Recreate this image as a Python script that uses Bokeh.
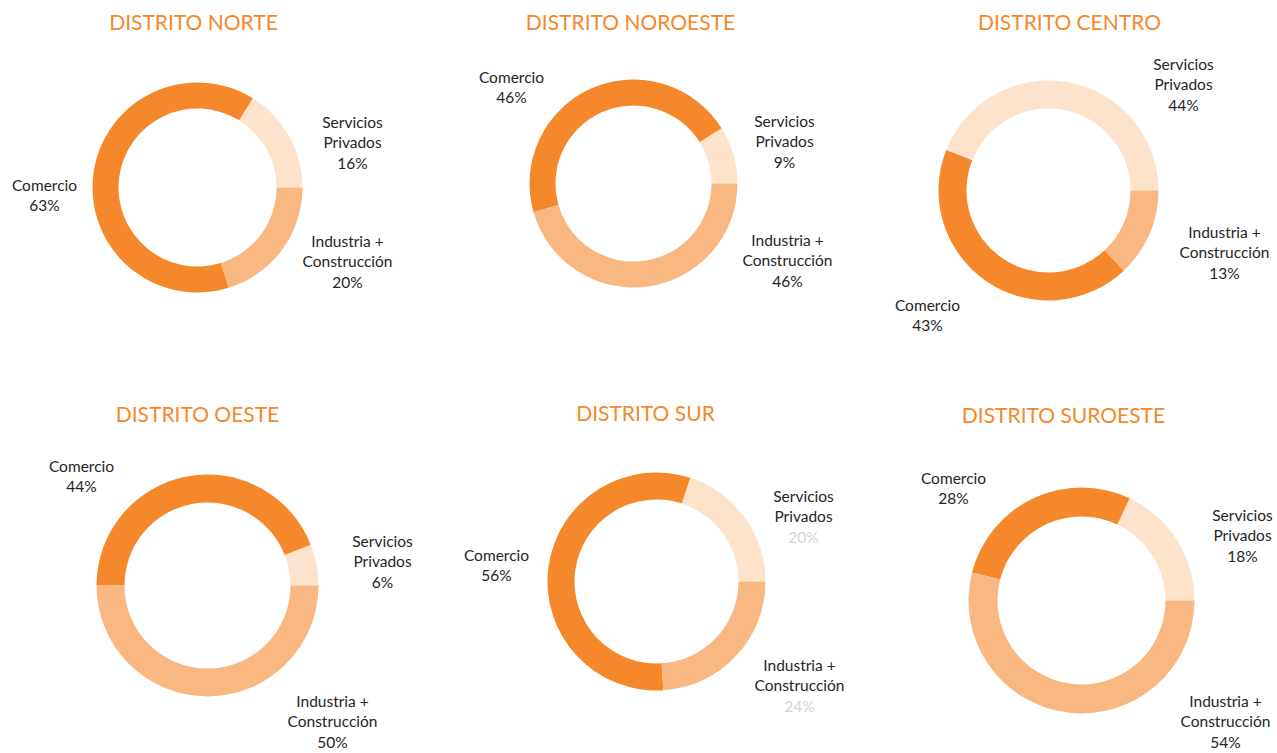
import math
from bokeh.plotting import figure
from bokeh.models import Range1d, ColumnDataSource
from bokeh.core.properties import value
from bokeh.embed import file_html
from bokeh.resources import INLINE

# ---------------- data ----------------
districts = ["DISTRITO NORTE", "DISTRITO NOROESTE", "DISTRITO CENTRO",
             "DISTRITO OESTE", "DISTRITO SUR", "DISTRITO SUROESTE"]
sectors = ["Servicios Privados", "Comercio", "Industria + Construcción"]
servicios = [16, 9, 44, 6, 20, 18]
comercio = [63, 46, 43, 44, 56, 28]
industria = [20, 46, 13, 50, 24, 54]

sector_lines = {
    "Servicios Privados": ["Servicios", "Privados"],
    "Comercio": ["Comercio"],
    "Industria + Construcción": ["Industria +", "Construcción"],
}

# ---------------- layout / style (reference pixel coords) ----------------
W, H = 1277, 753
centers = [(197, 187), (633, 183), (1048, 190), (207, 585), (656, 581), (1081, 600)]
outer_r = [105, 104, 110, 111, 109, 113]
inner_r = [79, 78, 82, 83, 82, 84]
title_pos = [(193, 21), (630, 21), (1069, 21), (197, 413), (645, 412), (1063, 414)]
# first-line centre of each label: order Servicios, Comercio, Industria
label_pos = [
    [(352, 121), (44, 184), (347, 240)],
    [(784, 120), (511, 76), (787, 239)],
    [(1183, 63), (927, 304), (1224, 231)],
    [(382, 540), (81, 465), (332, 700)],
    [(803, 495), (496, 554), (799, 664)],
    [(1242, 514), (953, 477), (1225, 700)],
]
line_gap = 20.7
colors = {"Servicios Privados": "#FDE3CB", "Comercio": "#F5882A",
          "Industria + Construcción": "#F9B882"}
title_color = "#F5882A"
text_color = "#262626"
faded_pct_color = "#D4D4D4"
faded_pct = {4: [True, False, True]}  # Distrito Sur: percentages shown faint
FONT = "Lato"


def px(x):
    return x


def py(y):
    return H - y


p = figure(width=W, height=H, output_backend="svg", toolbar_location=None,
           x_range=Range1d(0, W), y_range=Range1d(0, H),
           min_border=0, outline_line_color=None)
p.axis.visible = False
p.grid.visible = False
p.background_fill_color = "white"
p.border_fill_color = "white"

# wedges
wx, wy, ir, orr, sa, ea, fc = [], [], [], [], [], [], []
for i in range(len(districts)):
    vals = [servicios[i], comercio[i], industria[i]]
    tot = float(sum(vals))
    a = 0.0
    for s, v in zip(sectors, vals):
        b = a + v / tot * 2 * math.pi
        wx.append(px(centers[i][0]))
        wy.append(py(centers[i][1]))
        ir.append(inner_r[i])
        orr.append(outer_r[i])
        sa.append(a)
        ea.append(b)
        fc.append(colors[s])
        a = b

src = ColumnDataSource(dict(x=wx, y=wy, ir=ir, orr=orr, sa=sa, ea=ea, fc=fc))
p.annular_wedge(x="x", y="y", inner_radius="ir", outer_radius="orr",
                inner_radius_units="screen", outer_radius_units="screen",
                start_angle="sa", end_angle="ea", direction="anticlock",
                fill_color="fc", line_color=None, source=src)

# titles
p.text(x=[px(t[0]) for t in title_pos], y=[py(t[1]) for t in title_pos],
       text=districts, text_font=value(FONT), text_font_size="21px",
       text_color=title_color, text_align="center", text_baseline="middle")

# labels
tx, ty, tt, tc = [], [], [], []
for i in range(len(districts)):
    vals = [servicios[i], comercio[i], industria[i]]
    for k, s in enumerate(sectors):
        lines = sector_lines[s] + ["%d%%" % vals[k]]
        x0, y0 = label_pos[i][k]
        for j, ln in enumerate(lines):
            tx.append(px(x0))
            ty.append(py(y0 + j * line_gap))
            tt.append(ln)
            is_pct = (j == len(lines) - 1)
            if is_pct and i in faded_pct and faded_pct[i][k]:
                tc.append(faded_pct_color)
            else:
                tc.append(text_color)

lsrc = ColumnDataSource(dict(x=tx, y=ty, t=tt, c=tc))
p.text(x="x", y="y", text="t", text_color="c", source=lsrc,
       text_font=value(FONT), text_font_size="15.5px",
       text_align="center", text_baseline="middle")

open("out.html", "w").write(file_html(p, INLINE))
